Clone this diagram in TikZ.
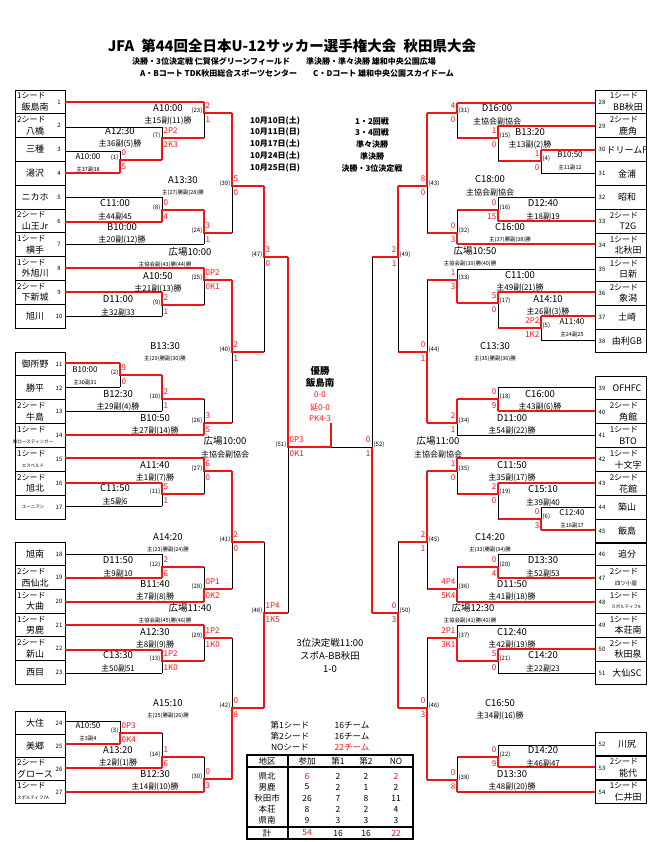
\documentclass[tikz,border=0pt]{standalone}
\usepackage{fontspec}
\setmainfont{Noto Sans CJK JP}
\definecolor{winred}{RGB}{240,20,20}
\tikzset{
  ln/.style={line width=0.9pt, black},
  win/.style={line width=2.6pt, winred},
  tm/.style={font=\fontsize{9.5}{10}\selectfont, inner sep=0pt},
  sb/.style={font=\fontsize{8}{8}\selectfont, inner sep=0pt},
  ss/.style={font=\fontsize{5.5}{6}\selectfont, inner sep=0pt},
  nb/.style={font=\fontsize{6}{6}\selectfont, inner sep=0.5pt},
  sc/.style={font=\fontsize{8}{8}\selectfont, text=winred, inner sep=0.5pt},
  tn/.style={font=\fontsize{9}{9}\selectfont, inner sep=0pt},
  sd/.style={font=\fontsize{8}{8}\selectfont, inner sep=0pt},
  tiny/.style={font=\fontsize{4.5}{5}\selectfont, inner sep=0pt},
  hd/.style={font=\bfseries\fontsize{8}{8}\selectfont, inner sep=0pt},
  tb/.style={font=\fontsize{8.5}{9}\selectfont, inner sep=0pt}
}
% bracket: x, top, bottom, out, next x, winner t/b
\newcommand\bk[6]{\draw[ln] (#1,#2) -- (#1,#3);
  \if t#6 \draw[win] (#1,#2) -- (#1,#4) -- (#5,#4);
  \else \draw[win] (#1,#3) -- (#1,#4) -- (#5,#4); \fi}
% scores left side / right side: x, out, number, top, bottom
\newcommand\lsc[5]{\node[nb,anchor=east] at (#1-1,#2-2) {(#3)};
  \node[sc,anchor=west] at (#1+1,#2-7) {#4}; \node[sc,anchor=west] at (#1+1,#2+7) {#5};}
\newcommand\rsc[5]{\node[nb,anchor=west] at (#1+1,#2-2) {(#3)};
  \node[sc,anchor=east] at (#1-1,#2-7) {#4}; \node[sc,anchor=east] at (#1-1,#2+7) {#5};}
\begin{document}
\begin{tikzpicture}[x=1pt,y=-1pt]
\fill[white] (0,0) rectangle (661,842);
\useasboundingbox (0,0) rectangle (661,842);

% title
\node[font=\bfseries\fontsize{14.5}{15}\selectfont] (title) at (292,46) {JFA\enspace 第44回全日本U-12サッカー選手権大会\enspace 秋田県大会};
\node[hd] (sub1) at (284,61) {決勝・3位決定戦\ 仁賀保グリーンフィールド\qquad 準決勝・準々決勝\ 雄和中央公園広場};
\node[hd] (sub2) at (297,73) {A・Bコート\ TDK秋田総合スポーツセンター\qquad C・Dコート\ 雄和中央公園スカイドーム};

% dates
\foreach \y/\d/\r [count=\i] in {121/10月10日(土)/1・2回戦,132/10月11日(日)/3・4回戦,144/10月17日(土)/準々決勝,156/10月24日(土)/準決勝,168/10月25日(日)/決勝・3位決定戦}{
  \node[hd,anchor=west] (date\i) at (250,\y) {\d};
  \node[hd] (round\i) at (372,\y) {\r};
}

% left team boxes
\foreach \n/\y/\a/\b in {1/90/1シード/飯島南,2/113.8/2シード/八橋,6/209/2シード/山王Jr,7/232.8/1シード/横手,8/256.6/1シード/外旭川,9/280.4/2シード/下新城,
  13/399.8/2シード/牛島,16/471.5/2シード/旭北,19/565.7/2シード/西仙北,20/589.4/1シード/大曲,21/613.1/1シード/男鹿,22/636.8/2シード/新山,26/757/2シード/グロース}{
  \draw[ln] (15,\y) rectangle (65,\y+23.8);
  \node[sd,anchor=west] (lta\n) at (17,\y+6) {\a};
  \node[tn] (ltb\n) at (35,\y+17) {\b};
  \node[nb] (ltn\n) at (59,\y+12) {\n};
}
\foreach \n/\y/\b in {3/137.6/三種,4/161.4/湯沢,5/185.2/ニカホ,10/304.2/旭川,11/352/御所野,12/375.9/勝平,18/542/旭南,23/660.5/西目,24/711/大住,25/734/美郷}{
  \draw[ln] (15,\y) rectangle (65,\y+23.8);
  \node[tn] (ltb\n) at (35,\y+12) {\b};
  \node[nb] (ltn\n) at (59,\y+12) {\n};
}
\foreach \n/\y/\b in {14/423.7/県北ースティンガー,15/447.6/エスペルド,27/780/スポルティフ7A}{
  \draw[ln] (15,\y) rectangle (65,\y+23.8);
  \node[sd,anchor=west] (lta\n) at (17,\y+6) {1シード};
  \node[tiny] (ltb\n) at (33,\y+18) {\b};
  \node[nb] (ltn\n) at (59,\y+12) {\n};
}
\draw[ln] (15,495.5) rectangle (65,519);
\node[tiny] (ltb17) at (33,507) {ユーニアン};
\node[nb] (ltn17) at (59,507) {17};

% right team boxes
\foreach \n/\y/\a/\b in {28/90/1シード/BB秋田,29/113.9/2シード/鹿角,33/209.5/2シード/T2G,34/233.4/1シード/北秋田,35/257.3/1シード/日新,36/281.2/2シード/象潟,
  40/399.9/2シード/角館,41/423.8/1シード/BTO,42/447.7/1シード/十文字,43/471.6/2シード/花館,49/613.4/1シード/本荘南,50/637.2/2シード/秋田泉,53/756/2シード/能代,54/780/1シード/仁井田}{
  \draw[ln] (595,\y) rectangle (646,\y+23.9);
  \node[sd] (rta\n) at (624,\y+6) {\a};
  \node[tn] (rtb\n) at (628,\y+17) {\b};
  \node[nb] (rtn\n) at (602,\y+12) {\n};
}
\foreach \n/\y/\b in {30/137.8/ドリームF,31/161.7/金浦,32/185.6/昭和,37/305.1/土崎,38/329/由利GB,39/376/OFHFC,44/495.5/築山,45/519.4/飯島,46/542/追分,51/661/大仙SC,52/732/川尻}{
  \draw[ln] (595,\y) rectangle (646,\y+23.9);
  \node[tn] (rtb\n) at (627,\y+12) {\b};
  \node[nb] (rtn\n) at (602,\y+12) {\n};
}
\draw[ln] (595,565.8) rectangle (646,589.6);
\node[sd] (rta47) at (624,572) {2シード};
\node[ss] (rtb47) at (626,583) {四ツ小屋};
\node[nb] (rtn47) at (602,578) {47};
\draw[ln] (595,589.6) rectangle (646,613.4);
\node[sd] (rta48) at (624,596) {1シード};
\node[tiny] (rtb48) at (626,607) {スポルティフ8};
\node[nb] (rtn48) at (602,602) {48};

% left team lines
\foreach \y/\x in {127/162,151/120,197/162,244/204,316/162,387/120,411/162,506/162,554/162,673/162,721/120}
  \draw[ln] (65,\y) -- (\x,\y);
\foreach \y/\x in {102/204,173/120,222/162,268/204,292/162,363/120,435/204,458/204,483/162,578/162,602/204,625/204,650/162,744/120,768/162,792/204}
  \draw[win] (65,\y) -- (\x,\y);
% right team lines
\foreach \y/\x in {173/541,197/498,269/457,340/541,387/498,435/457,507/541,554/498,625/457,673/498,745/498}
  \draw[ln] (595,\y) -- (\x,\y);
\foreach \y/\x in {103/457,126/498,150/541,221/498,244/457,292/498,316/541,411/498,458/457,483/498,530/541,578/498,602/457,649/498,767/498,792/457}
  \draw[win] (595,\y) -- (\x,\y);

% left brackets
\bk{120}{151}{173}{160}{162}{b} \bk{162}{127}{160}{138}{204}{b} \bk{204}{102}{138}{113}{232}{t}
\bk{162}{197}{222}{210}{204}{b} \bk{204}{210}{244}{233}{232}{t} \bk{232}{113}{233}{186}{264}{t}
\bk{162}{292}{316}{305}{204}{t} \bk{204}{268}{305}{280}{232}{t}
\bk{120}{363}{387}{375}{162}{t} \bk{162}{375}{411}{399}{204}{t} \bk{204}{399}{435}{423}{232}{b}
\bk{232}{280}{423}{352}{264}{t} \bk{264}{186}{352}{257}{288}{t}
\bk{162}{483}{506}{494}{204}{t} \bk{204}{458}{494}{471}{232}{t}
\bk{162}{554}{578}{567}{204}{b} \bk{204}{567}{602}{589}{232}{b} \bk{232}{471}{589}{542}{264}{t}
\bk{162}{650}{673}{661}{204}{t} \bk{204}{625}{661}{638}{232}{t}
\bk{120}{721}{744}{733}{162}{b} \bk{162}{733}{768}{757}{204}{b} \bk{204}{757}{792}{779}{232}{b}
\bk{232}{638}{779}{708}{264}{b} \bk{264}{542}{708}{613}{288}{b}
\bk{288}{257}{613}{447}{331}{t}
% right brackets
\bk{541}{150}{173}{161}{498}{t} \bk{498}{126}{161}{138}{457}{t} \bk{457}{103}{138}{113}{427}{t}
\bk{498}{197}{221}{210}{457}{b} \bk{457}{210}{244}{233}{427}{b} \bk{427}{113}{233}{186}{398}{t}
\bk{541}{316}{340}{328}{498}{t} \bk{498}{292}{328}{303}{457}{t} \bk{457}{269}{303}{280}{427}{b}
\bk{498}{387}{411}{399}{457}{b} \bk{457}{399}{435}{423}{427}{t} \bk{427}{280}{423}{352}{398}{b}
\bk{398}{186}{352}{257}{372}{t}
\bk{541}{507}{530}{519}{498}{b} \bk{498}{483}{519}{494}{457}{t} \bk{457}{458}{494}{471}{427}{t}
\bk{498}{554}{578}{567}{457}{b} \bk{457}{567}{602}{589}{427}{b} \bk{427}{471}{589}{542}{398}{t}
\bk{498}{649}{673}{661}{457}{t} \bk{457}{625}{661}{638}{427}{b}
\bk{498}{745}{767}{757}{457}{b} \bk{457}{757}{792}{780}{427}{b} \bk{427}{638}{780}{708}{398}{b}
\bk{398}{542}{708}{613}{372}{b}
\bk{372}{257}{613}{447}{372}{b}
% final
\draw[ln] (331,447) -- (372,447);
\draw[win] (331,447) -- (331,423);

% left match texts
\foreach \x/\y/\t/\s in {168/108/A10:00/主15副(11)勝,120/131/A12:30/主36副(5)勝,115/203/C11:00/主44副45,122/227/B10:00/主20副(12)勝,
  158/276/A10:50/主21副(13)勝,118/299/D11:00/主32副33,118/394/B12:30/主29副(4)勝,155/418/B10:50/主27副(14)勝,
  155/465/A11:40/主1副(7)勝,115/488/C11:50/主5副6,118/560/D11:50/主9副10,155/584/B11:40/主7副(8)勝,
  155/632/A12:30/主8副(9)勝,118/655/C13:30/主50副51,118/750/A13:20/主2副(1)勝,155/774/B12:30/主14副(10)勝,
  190/252/広場10:00/,225/441/広場10:00/主協会副協会,190/608/広場11:40/}{
  \node[tm] at (\x,\y) {\t}; \node[sb] at (\x,\y+13) {\s};
}
\foreach \x/\y/\t/\s in {183/180/A13:30/主(27)勝副(28)勝,165/346/B13:30/主(29)勝副(30)勝,168/537/A14:20/主(23)勝副(24)勝,
  168/703/A15:10/主(25)勝副(26)勝,165/252//主協会副(43)勝(44)勝,165/608//主協会副(45)勝(46)勝}{
  \node[tm] at (\x,\y) {\t}; \node[ss] at (\x,\y+13) {\s};
}
\foreach \x/\y/\t/\s in {88/157/A10:00/主37副38,85/370/B10:00/主30副31,88/726/A10:50/主3副4}{
  \node[sb] at (\x,\y) {\t}; \node[ss] at (\x,\y+12) {\s};
}
\lsc{204}{113}{23}{2}{1} \lsc{162}{138}{7}{2P2}{2K3} \lsc{120}{160}{1}{0}{5}
\lsc{232}{186}{39}{5}{0} \lsc{162}{210}{8}{0}{4} \lsc{204}{233}{24}{3}{1}
\lsc{264}{257}{47}{3}{0} \lsc{204}{280}{25}{0P2}{0K1} \lsc{162}{305}{9}{2}{1}
\lsc{232}{352}{40}{2}{1} \lsc{120}{375}{2}{9}{0} \lsc{162}{399}{10}{2}{1}
\lsc{204}{423}{26}{3}{5} \lsc{288}{447}{51}{0P3}{0K1} \lsc{204}{471}{27}{6}{0}
\lsc{162}{494}{11}{5}{1} \lsc{232}{542}{41}{2}{0} \lsc{162}{567}{12}{2}{6}
\lsc{204}{589}{28}{0P1}{0K2} \lsc{264}{613}{48}{1P4}{1K5} \lsc{204}{638}{29}{1P2}{1K0}
\lsc{162}{661}{13}{1P2}{1K0} \lsc{232}{708}{42}{0}{8} \lsc{120}{733}{3}{0P3}{0K4}
\lsc{162}{757}{14}{1}{6} \lsc{204}{779}{30}{0}{3}

% right match texts
\foreach \x/\y/\t/\s in {497/108/D16:00/主協会副協会,530/132/B13:20/主13副(2)勝,490/179/C18:00/主協会副協会,543/203/D12:40/主18副19,
  520/275/C11:00/主49副(21)勝,548/299/A14:10/主26副(3)勝,540/394/C16:00/主43副(6)勝,512/418/D11:00/主54副(22)勝,
  438/441/広場11:00/主協会副協会,512/465/C11:50/主35副(17)勝,543/489/C15:10/主39副40,543/560/D13:30/主52副53,
  512/584/D11:50/主41副(18)勝,512/632/C12:40/主42副(19)勝,543/655/C14:20/主22副23,500/703/C16:50/主34副(16)勝,
  543/750/D14:20/主46副47,512/774/D13:30/主48副(20)勝,475/251/広場10:50/,473/608/広場12:30/}{
  \node[tm] at (\x,\y) {\t}; \node[sb] at (\x,\y+13) {\s};
}
\foreach \x/\y/\t/\s in {510/227/C16:00/主(37)勝副(38)勝,495/346/C13:30/主(35)勝副(36)勝,490/537/C14:20/主(33)勝副(34)勝,
  470/251//主協会副(39)勝(40)勝,470/608//主協会副(41)勝(42)勝}{
  \node[tm] at (\x,\y) {\t}; \node[ss] at (\x,\y+13) {\s};
}
\foreach \x/\y/\t/\s in {570/155/B10:50/主11副12,572/322/A11:40/主24副25,572/513/C12:40/主16副17}{
  \node[sb] at (\x,\y) {\t}; \node[ss] at (\x,\y+12) {\s};
}
\rsc{457}{113}{31}{4}{0} \rsc{498}{138}{15}{1}{0} \rsc{541}{161}{4}{1}{0}
\rsc{427}{186}{43}{8}{0} \rsc{498}{210}{16}{0}{15} \rsc{457}{233}{32}{0}{3}
\rsc{398}{257}{49}{2}{1} \rsc{457}{280}{33}{1}{3} \rsc{498}{303}{17}{5}{0}
\rsc{541}{328}{5}{2P2}{1K2} \rsc{427}{352}{44}{0}{1} \rsc{498}{399}{18}{0}{9}
\rsc{457}{423}{34}{2}{1} \rsc{372}{447}{52}{0}{1} \rsc{457}{471}{35}{1}{0}
\rsc{498}{494}{19}{2}{0} \rsc{541}{519}{6}{0}{3} \rsc{427}{542}{45}{2}{1}
\rsc{498}{567}{20}{0}{4} \rsc{457}{589}{36}{4P4}{5K4} \rsc{398}{613}{50}{0}{3}
\rsc{457}{638}{37}{2P1}{3K1} \rsc{498}{661}{21}{5}{0} \rsc{427}{708}{46}{0}{3}
\rsc{498}{757}{22}{0}{9} \rsc{457}{780}{38}{0}{8}

% champion and third place
\node[font=\bfseries\fontsize{9.5}{10}\selectfont] (champ) at (320,371) {優勝};
\node[font=\bfseries\fontsize{9.5}{10}\selectfont] (champname) at (320,383) {飯島南};
\node[sc] (champsc) at (320,395) {0-0};
\node[sc] (champex) at (320,407) {延0-0};
\node[sc] (champpk) at (320,419) {PK4-3};
\node[tm] (third) at (330,643) {3位決定戦11:00};
\node[tm] (thirdpair) at (330,656) {スポA-BB秋田};
\node[tm] (thirdsc) at (330,669) {1-0};

% seeds and table
\foreach \y/\a/\b/\c in {725/第1シード/16チーム/black,736/第2シード/16チーム/black,747/NOシード/22チーム/winred}{
  \node[tb] at (290,\y) {\a}; \node[tb,text=\c] at (352,\y) {\b};
}
\draw[line width=1.4pt] (247,755) rectangle (413,839);
\draw[line width=1.2pt] (247,767) -- (413,767) (247,827) -- (413,827) (288,755) -- (288,839);
\foreach \c/\x in {地区/267,参加/307,第1/338,第2/366,NO/396} \node[tb] at (\x,761) {\c};
\foreach \r/\y/\p/\f/\s/\n/\pc/\nc in {県北/776/6/2/2/2/winred/winred,男鹿/787/5/2/1/2/black/black,秋田市/798/26/7/8/11/black/black,
  本荘/809/8/2/2/4/black/black,県南/820/9/3/3/3/black/black,計/833/54/16/16/22/winred/winred}{
  \node[tb] at (267,\y) {\r}; \node[tb,text=\pc] at (307,\y) {\p};
  \node[tb] at (338,\y) {\f}; \node[tb] at (366,\y) {\s}; \node[tb,text=\nc] at (396,\y) {\n};
}
\end{tikzpicture}
\end{document}
